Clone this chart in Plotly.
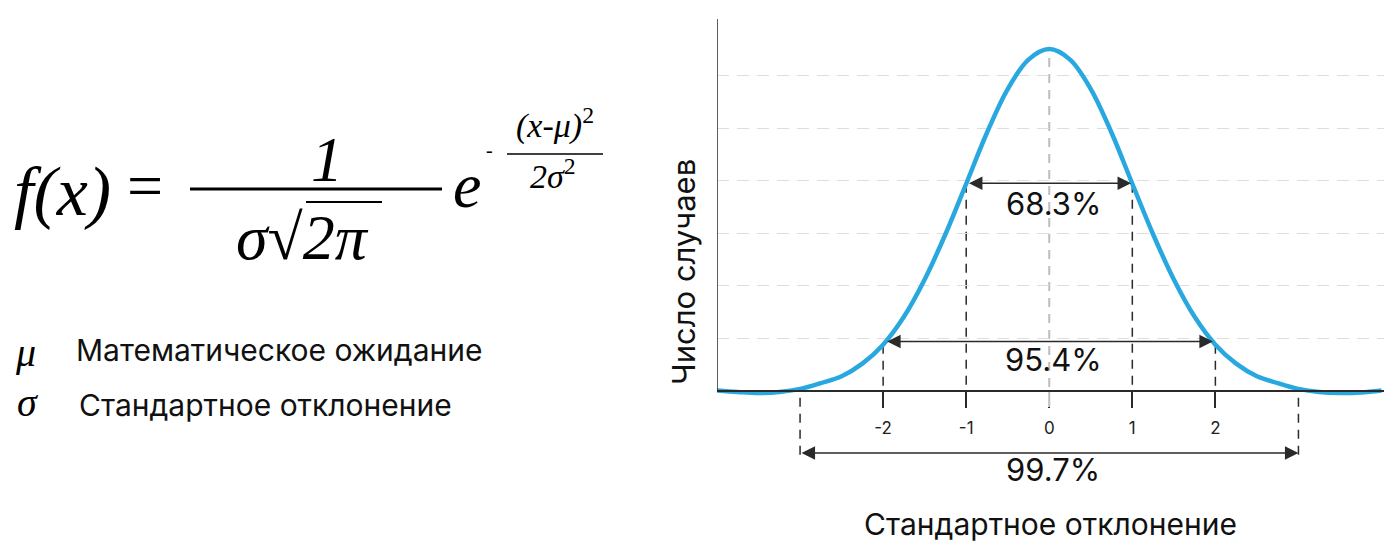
import numpy as np
import plotly.graph_objects as go

# ---------------- data ----------------
curve_x = [-4.0, -3.75, -3.5, -3.25, -3.0, -2.75, -2.5, -2.25, -2.0, -1.75, -1.5, -1.25,
           -1.0, -0.75, -0.5, -0.25, 0.0, 0.25, 0.5, 0.75, 1.0, 1.25, 1.5, 1.75,
           2.0, 2.25, 2.5, 2.75, 3.0, 3.25, 3.5, 3.75, 4.0]
curve_y = [0.01, -0.02, -0.04, -0.02, 0.04, 0.15, 0.28, 0.52, 0.88, 1.41, 2.12, 2.98,
           3.94, 4.91, 5.74, 6.30, 6.50, 6.30, 5.74, 4.91, 3.94, 2.98, 2.12, 1.41,
           0.88, 0.52, 0.28, 0.15, 0.04, -0.02, -0.04, -0.03, 0.01]

tick_vals = [-2, -1, 0, 1, 2]
tick_text = ["-2", "-1", "0", "1", "2"]
grid_levels = [1, 2, 3, 4, 5, 6]

coverage_labels = ["68.3%", "95.4%", "99.7%"]
coverage_sigma = [1, 2, 3]
arrow_tip = [0.985, 1.97, 3.0]
arrow_level = [3.95, 0.94, -1.18]
label_level = [3.57, 0.59, -1.50]

x_title = "Стандартное отклонение"
y_title = "Число случаев"
legend_symbols = ["μ", "σ"]
legend_texts = ["Математическое ожидание", "Стандартное отклонение"]

# ---------------- layout geometry ----------------
FIG_W, FIG_H = 1400, 550
OFF = 8  # page body margin
L, R, T, B = 717 - OFF, 1384 - OFF, 19 - OFF, 500 - OFF
AXIS_Y = 391 - OFF
W, H = R - L, B - T
X_RANGE = [-4.0, 4.03]
Y_UNIT = 52.6
Y_MAX = (AXIS_Y - T) / Y_UNIT
Y_MIN = -(B - AXIS_Y) / Y_UNIT
TICK_LEN_Y = 16 / Y_UNIT

def px(x):
    return (x - OFF - L) / W

def py(y):
    return (B - (y - OFF)) / H

SERIF = "Liberation Serif"
SANS = "Inter"
BLUE = "#29a8e0"
DARK = "#2a2a2a"
LIGHT = "#bdbdbd"

fig = go.Figure()
fig.add_trace(go.Scatter(
    x=curve_x, y=curve_y, mode="lines",
    line=dict(color=BLUE, width=4.5, shape="spline", smoothing=1.0),
    hoverinfo="skip", showlegend=False,
))

shapes = []
# y axis line
shapes.append(dict(type="line", xref="x", yref="y", x0=X_RANGE[0], x1=X_RANGE[0],
                   y0=0, y1=Y_MAX, line=dict(color=DARK, width=1.5)))

# vertical guide lines
for s in [-2, -1, 1, 2]:
    top = float(np.interp(s, curve_x, curve_y))
    shapes.append(dict(type="line", xref="x", yref="y", x0=s, x1=s, y0=top, y1=0,
                       line=dict(color=DARK, width=1.5, dash="9px,7px"), layer="below"))
peak = float(np.interp(0, curve_x, curve_y))
shapes.append(dict(type="line", xref="x", yref="y", x0=0, x1=0, y0=peak - 0.17, y1=0,
                   line=dict(color=LIGHT, width=2, dash="9px,7px"), layer="below"))
# light-grey centre tick
shapes.append(dict(type="line", xref="x", yref="y", x0=0, x1=0, y0=-0.02, y1=-TICK_LEN_Y,
                   line=dict(color="white", width=3), layer="above"))
shapes.append(dict(type="line", xref="x", yref="y", x0=0, x1=0, y0=-0.02, y1=-TICK_LEN_Y,
                   line=dict(color=LIGHT, width=2), layer="above"))
for s in [-3, 3]:
    shapes.append(dict(type="line", xref="x", yref="y", x0=s, x1=s, y0=-0.13, y1=-1.24,
                       line=dict(color=DARK, width=1.5, dash="9px,7px")))

# formula fraction bars and root overbar
shapes.append(dict(type="line", xref="paper", yref="paper", x0=px(190), x1=px(442),
                   y0=py(189), y1=py(189), line=dict(color="black", width=3)))
shapes.append(dict(type="line", xref="paper", yref="paper", x0=px(306), x1=px(382),
                   y0=py(202), y1=py(202), line=dict(color="black", width=2)))
shapes.append(dict(type="line", xref="paper", yref="paper", x0=px(507), x1=px(603),
                   y0=py(154), y1=py(154), line=dict(color="black", width=1.6)))

annotations = []
# coverage arrows and labels
for lab, k, tip, al, ll in zip(coverage_labels, coverage_sigma, arrow_tip, arrow_level, label_level):
    annotations.append(dict(x=tip, y=al, ax=-tip, ay=al, xref="x", yref="y", axref="x", ayref="y",
                            text="", showarrow=True, arrowhead=2, arrowside="end+start",
                            arrowsize=1.8, arrowwidth=1.5, arrowcolor=DARK))
    annotations.append(dict(x=0.05, y=ll, xref="x", yref="y", text=lab, showarrow=False,
                            xanchor="center", yanchor="middle",
                            font=dict(family=SANS, size=31, color="#111")))

# y title
annotations.append(dict(x=px(683), y=py(272), xref="paper", yref="paper", text=y_title,
                        textangle=-90, showarrow=False, xanchor="center", yanchor="middle",
                        font=dict(family=SANS, size=31, color="#111")))

def ann(text, x, y, size, family=SERIF, xanchor="center", color="black"):
    annotations.append(dict(x=px(x), y=py(y), xref="paper", yref="paper", text=text,
                            showarrow=False, xanchor=xanchor, yanchor="middle",
                            font=dict(family=family, size=size, color=color)))

# formula
ann("<i>f(x)</i>", 12, 192, 70, xanchor="left")
ann("=", 145, 186, 64)
ann("<i>1</i>", 327, 160, 64)
ann("<i>σ</i>√<i>2π</i>", 302, 238, 64)
ann("<i>e</i>", 467, 186, 64)
ann("-", 489, 150, 20)
ann("<i>(x-μ)</i><sup>2</sup>", 555, 124, 34)
ann("<i>2σ</i><sup>2</sup>", 553, 174, 34)

# legend of symbols
ann("<i>" + legend_symbols[0] + "</i>", 25, 352, 40)
ann("<i>" + legend_symbols[1] + "</i>", 27, 402, 40)
ann(legend_texts[0], 74, 350, 30, family=SANS, xanchor="left", color="#111")
ann(legend_texts[1], 77, 405, 30, family=SANS, xanchor="left", color="#111")

fig.update_layout(
    width=FIG_W, height=FIG_H,
    margin=dict(l=L, r=FIG_W - R, t=T, b=FIG_H - B, autoexpand=False),
    paper_bgcolor="white", plot_bgcolor="white",
    showlegend=False,
    shapes=shapes, annotations=annotations,
    xaxis=dict(range=X_RANGE, anchor="free", position=(B - AXIS_Y) / H,
               showline=True, linecolor=DARK, linewidth=1.5,
               showgrid=False, zeroline=False,
               ticks="outside", ticklen=16, tickwidth=1.5, tickcolor=DARK,
               tickvals=tick_vals, ticktext=tick_text, ticklabelstandoff=6,
               tickfont=dict(family=SANS, size=17, color="#222"),
               title=dict(text=x_title, standoff=76, font=dict(family=SANS, size=30, color="#111")),
               automargin=False, fixedrange=True),
    yaxis=dict(range=[Y_MIN, Y_MAX], showline=False, zeroline=False,
               showgrid=True, gridcolor="#dedede", gridwidth=1.2, griddash="12px,8px",
               tickvals=grid_levels, showticklabels=False, ticks="",
               automargin=False, fixedrange=True),
)

fig.write_html("out.html")
